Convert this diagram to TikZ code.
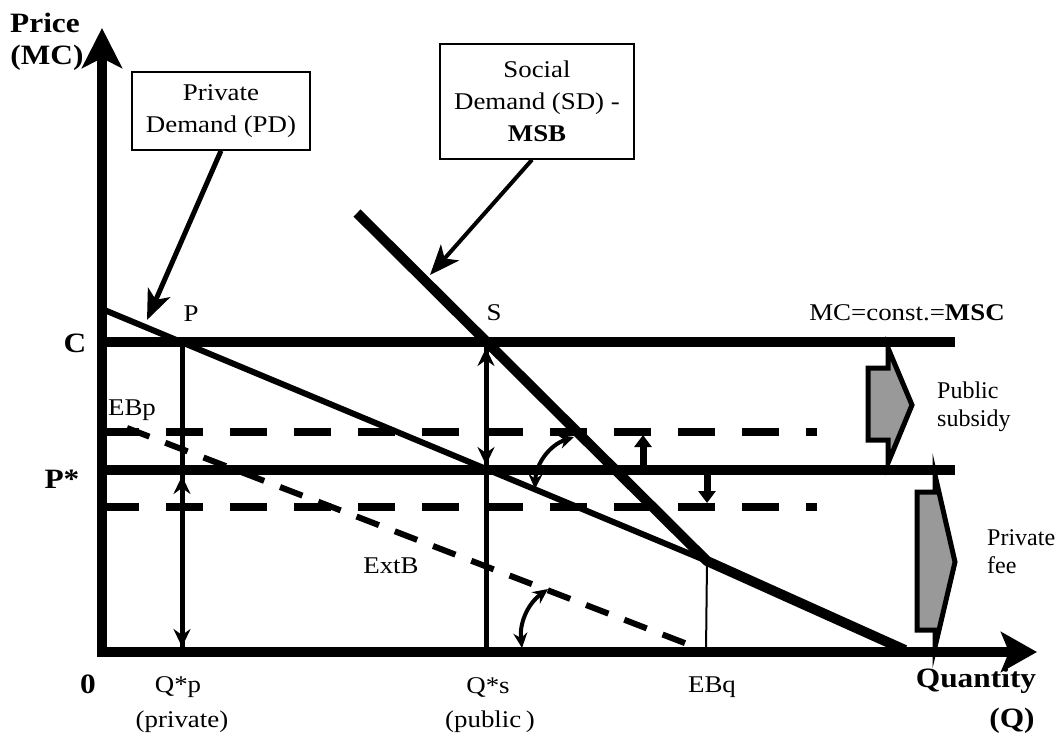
\documentclass[tikz,border=0pt]{standalone}
\usepackage{fontspec}
\usepackage{graphicx}
\setmainfont{Liberation Serif}
\usetikzlibrary{arrows.meta}
\newcommand{\wx}[1]{\scalebox{1.12}[1]{#1}}
\tikzset{
  smtip/.tip={Stealth[length=18pt,width=17pt,inset=6pt]},
  cvtip/.tip={Stealth[length=15pt,width=14pt,inset=5pt]},
  bxtip/.tip={Stealth[length=30pt,width=24pt,inset=8pt]}
}
\begin{document}
\begin{tikzpicture}[x=1pt,y=-1pt,
  font=\fontsize{24}{32}\selectfont,
  thickln/.style={line width=10pt},
  dashln/.style={line width=8pt, dash pattern=on 37pt off 27pt},
  extln/.style={line width=6pt, dash pattern=on 24pt off 17pt},
  lbl/.style={inner sep=0pt},
  bl/.style={inner sep=0pt, font=\fontsize{28}{32}\selectfont\bfseries},
  box/.style={draw, line width=1.5pt, fill=white, align=center, inner sep=2pt},
  fat/.style={draw, line width=5pt, fill=black!40, line join=miter}]
\useasboundingbox (0,0) rectangle (1060,736);

% coordinates
\coordinate (ybot) at (102,657);
\coordinate (ytop) at (102,28);
\coordinate (xl) at (97,652);
\coordinate (xr) at (1037,652);
\coordinate (cl) at (102,342);
\coordinate (cr) at (955,342);
\coordinate (pl) at (102,470);
\coordinate (pr) at (955,470);
\coordinate (ul) at (102,432);
\coordinate (ur) at (817,432);
\coordinate (dl) at (102,507);
\coordinate (dr) at (817,507);
\coordinate (pd0) at (102,309);
\coordinate (eb) at (707,561);
\coordinate (qend) at (905,650);
\coordinate (sd0) at (357,213);
\coordinate (ebq) at (706,652);
\coordinate (ex0) at (127,428);
\coordinate (ex1) at (695,647);
\coordinate (pdtip) at (147,320);
\coordinate (sdtip) at (430,275);

% dashed lines
\draw[dashln] (ul) -- (ur);
\draw[dashln] (dl) -- (dr);
% horizontal solid lines
\draw[thickln] (cl) -- (cr);
\draw[thickln] (pl) -- (pr);
% ExtB
\draw[extln] (ex0) -- (ex1);
% EBq thin
\draw[line width=2pt] (eb) -- (ebq);
% private demand
\draw[line width=6pt] (pd0) -- (eb);
% social demand
\draw[line width=10pt, line join=round] (sd0) -- (eb) -- (qend);

% Q*p vertical
\draw[line width=5pt] (182,342) -- (182,652);
\draw[line width=5pt, smtip-smtip] (182,476) -- (182,647);
% Q*s vertical
\draw[line width=5pt] (486,342) -- (486,652);
\draw[line width=5pt, smtip-smtip] (486,348) -- (486,465);

% small thick arrows
\draw[line width=7pt, -{Triangle[length=12pt,width=17pt]}] (643,466) -- (643,435);
\draw[line width=7pt, -{Triangle[length=12pt,width=17pt]}] (707,474) -- (707,503);

% curved arrows
\draw[line width=4pt, cvtip-cvtip] (535,489) to[bend left=35] (574,437);
\draw[line width=4pt, cvtip-cvtip] (522,648) to[bend left=30] (548,589);

% axes
\draw[line width=10pt, -{Stealth[length=40pt,width=40pt,inset=10pt]}] (ybot) -- (ytop);
\draw[line width=10pt, -{Stealth[length=36pt,width=40pt,inset=8pt]}] (xl) -- (xr);

% fat arrows
\draw[fat] (868,368) -- (888,368) -- (888,348) -- (912,405) -- (888,463) -- (888,440) -- (868,440) -- cycle;
\draw[fat] (917,492) -- (935,492) -- (935,475) -- (955,562) -- (935,647) -- (935,630) -- (917,630) -- cycle;

% boxes
\node[box, minimum width=178pt, minimum height=78pt] (pd) at (221,111) {\wx{Private}\\\wx{Demand (PD)}};
\node[box, minimum width=194pt, minimum height=115pt] (sd) at (537,101.5) {\wx{Social}\\\wx{Demand (SD) -}\\\wx{\textbf{MSB}}};
\draw[line width=5pt, -bxtip] (pd.south) -- (pdtip);
\draw[line width=4pt, -bxtip] ([xshift=-5pt]sd.south) -- (sdtip);

% labels
\node[bl] (tprice) at (45,23) {\wx{Price}};
\node[bl] (tmc) at (47,58) {\wx{(MC)}};
\node[bl] (tc) at (75,343) {\wx{C}};
\node[bl] (tps) at (62,479) {\wx{P*}};
\node[bl] (t0) at (88,684) {\wx{0}};
\node[bl] (tq) at (976,681) {\wx{Quantity}};
\node[bl] (tqq) at (1012,721) {\wx{(Q)}};
\node[lbl] (tp) at (191,314) {\wx{P}};
\node[lbl] (ts) at (494,313) {\wx{S}};
\node[lbl] (tebp) at (132,410) {\wx{EBp}};
\node[lbl] (text) at (391,566) {\wx{ExtB}};
\node[lbl] (tmsc) at (907,313) {\wx{MC=const.=\textbf{MSC}}};
\node[lbl, align=left, anchor=west] (tpub) at (937,407) {Public\\[-4pt]subsidy};
\node[lbl, align=left, anchor=west] (tpri) at (987,552) {Private\\[-4pt]fee};
\node[lbl] (tqp) at (178,687) {\wx{Q*p}};
\node[lbl] (tprv) at (182,722) {\wx{(private)}};
\node[lbl] (tqs) at (488,687) {\wx{Q*s}};
\node[lbl] (tpbl) at (490,722) {\wx{(public\,)}};
\node[lbl] (tebq) at (712,687) {\wx{EBq}};
\end{tikzpicture}
\end{document}
